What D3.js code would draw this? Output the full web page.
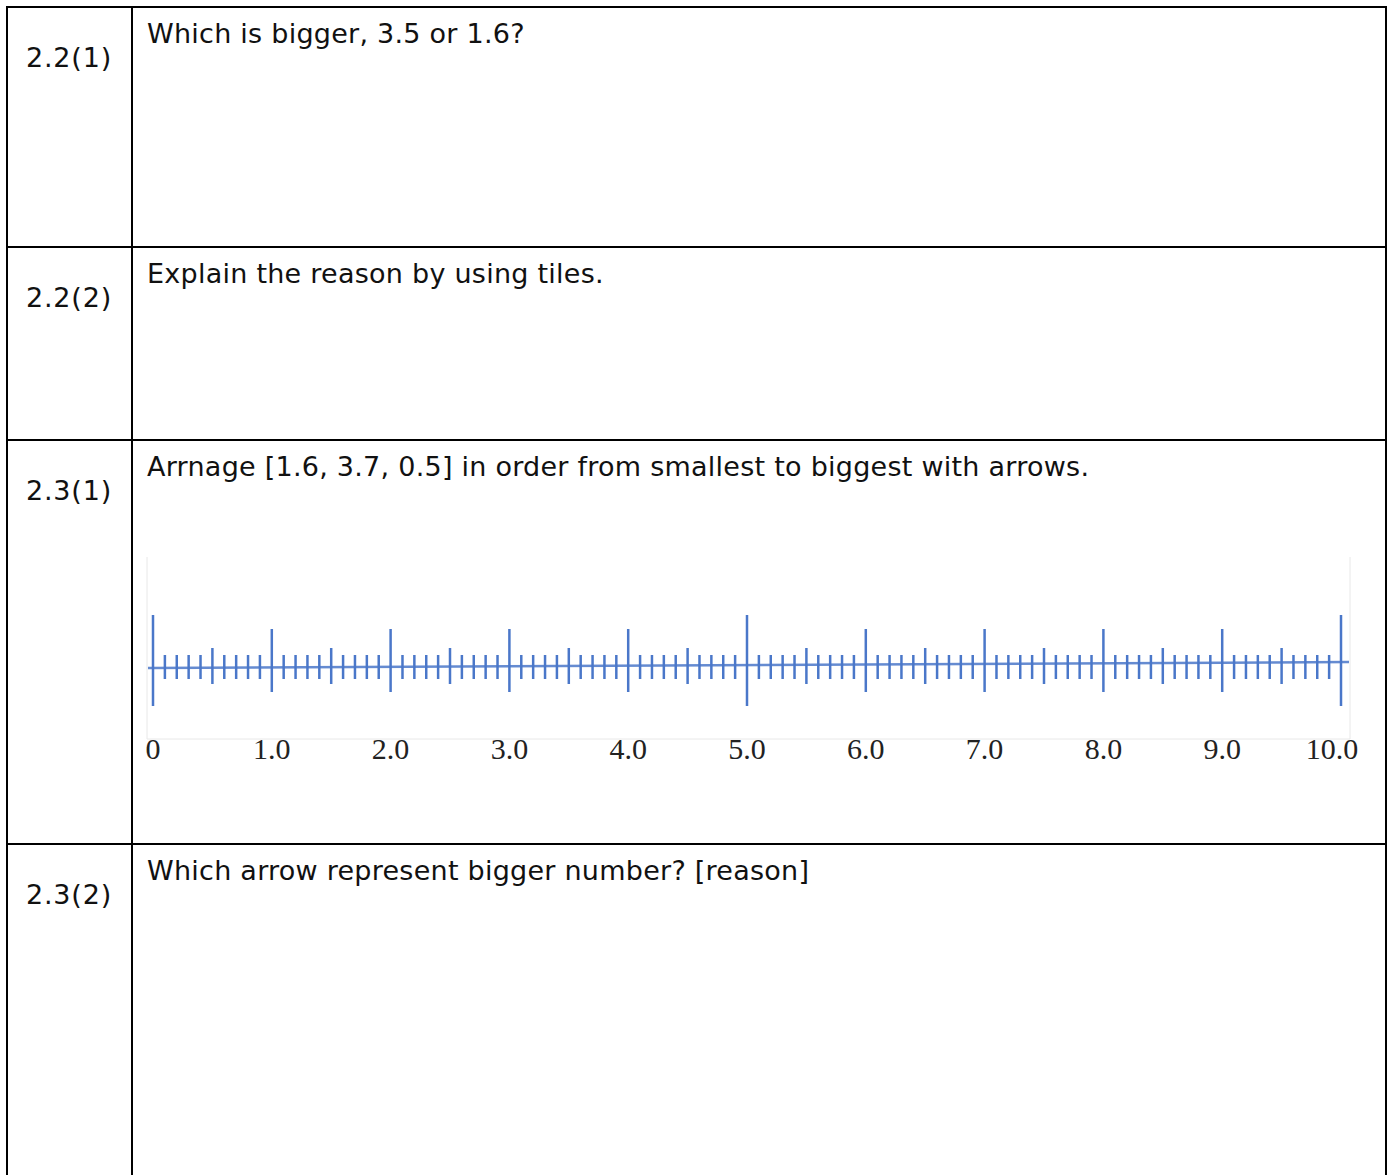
<!DOCTYPE html>
<html>
<head>
<meta charset="utf-8">
<script src="https://cdn.jsdelivr.net/npm/d3@7"></script>
<style>
  body { margin: 0; background: #fff; }
  svg { display: block; }
</style>
</head>
<body>
<div id="chart"></div>
<script>
// table content
const rowIds = ["2.2(1)", "2.2(2)", "2.3(1)", "2.3(2)"];
const questions = [
  "Which is bigger, 3.5 or 1.6?",
  "Explain the reason by using tiles.",
  "Arrnage [1.6, 3.7, 0.5] in order from smallest to biggest with arrows.",
  "Which arrow represent bigger number? [reason]"
];
// number line content
const lineDomain = [0, 10];
const majorTicks = [0, 5, 10];
const unitTicks = [1, 2, 3, 4, 6, 7, 8, 9];
const tickLabels = ["0", "1.0", "2.0", "3.0", "4.0", "5.0", "6.0", "7.0", "8.0", "9.0", "10.0"];

const width = 1395, height = 1175;
const rowTops = [7, 247, 440, 844, 1200];
const colX = [7, 132, 1386];
const blue = "#4a77c9";

const svg = d3.select("#chart").append("svg")
  .attr("width", width)
  .attr("height", height);

// ---- table grid ----
const grid = svg.append("g")
  .attr("stroke", "#000")
  .attr("stroke-width", 2);

grid.selectAll("line.h")
  .data(rowTops.slice(0, 4))
  .enter().append("line")
  .attr("x1", colX[0] - 1).attr("x2", colX[2] + 1)
  .attr("y1", d => d).attr("y2", d => d);

grid.selectAll("line.v")
  .data(colX)
  .enter().append("line")
  .attr("x1", d => d).attr("x2", d => d)
  .attr("y1", rowTops[0]).attr("y2", height);

const rows = svg.selectAll("g.row")
  .data(rowIds.map((id, i) => ({ id, q: questions[i], top: rowTops[i] })))
  .enter().append("g")
  .attr("class", "row");

rows.append("text")
  .attr("x", 26)
  .attr("y", d => d.top + 60)
  .attr("font-family", "DejaVu Sans, Verdana, sans-serif")
  .attr("font-size", 27)
  .attr("letter-spacing", 0.8)
  .attr("fill", "#111")
  .text(d => d.id);

rows.append("text")
  .attr("x", 147)
  .attr("y", d => d.top + 36)
  .attr("font-family", "DejaVu Sans, Verdana, sans-serif")
  .attr("font-size", 27)
  .attr("letter-spacing", 0.25)
  .attr("fill", "#111")
  .text(d => d.q);

// ---- number line ----
const x = d3.scaleLinear().domain(lineDomain).range([153, 1341]);
const nl = svg.append("g");

// faint picture frame
nl.append("path")
  .attr("d", `M147,557V739H1350V557`)
  .attr("fill", "none")
  .attr("stroke", "#e8e8e8")
  .attr("stroke-width", 1);

// main axis line (slightly tilted as in the picture)
nl.append("line")
  .attr("x1", x(lineDomain[0]) - 5).attr("y1", 668)
  .attr("x2", x(lineDomain[1]) + 8).attr("y2", 662)
  .attr("stroke", blue)
  .attr("stroke-opacity", 0.85)
  .attr("stroke-width", 2.5);

const tenths = x.ticks(100);
const isIn = (arr, v) => arr.some(a => Math.abs(a - v) < 1e-6);
const tickSpan = (v) => {
  if (isIn(majorTicks, v)) return [615, 706];
  if (isIn(unitTicks, v)) return [629, 692];
  if (Math.abs(v * 2 - Math.round(v * 2)) < 1e-6) return [648, 684];
  return [655, 679];
};

nl.selectAll("line.tick")
  .data(tenths)
  .enter().append("line")
  .attr("class", "tick")
  .attr("x1", d => x(d)).attr("x2", d => x(d))
  .attr("y1", d => tickSpan(d)[0])
  .attr("y2", d => tickSpan(d)[1])
  .attr("stroke", blue)
  .attr("stroke-width", 2.5);

nl.selectAll("text.lab")
  .data(tickLabels)
  .enter().append("text")
  .attr("class", "lab")
  .attr("x", (d, i) => x(i) + (i === 10 ? -9 : 0))
  .attr("y", 759)
  .attr("text-anchor", "middle")
  .attr("font-family", "Liberation Serif, Times New Roman, serif")
  .attr("font-size", 30)
  .attr("fill", "#222")
  .text(d => d);
</script>
</body>
</html>
